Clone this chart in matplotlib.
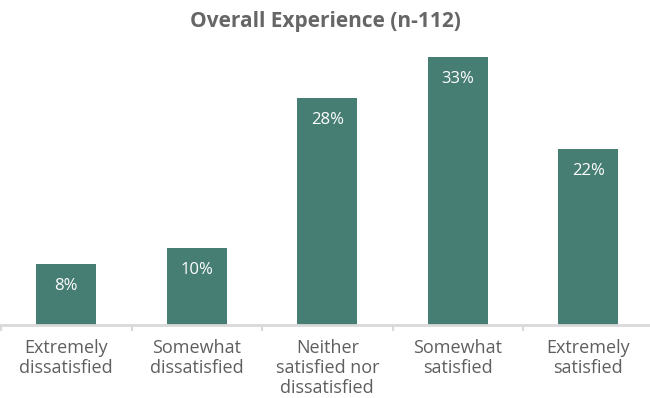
import matplotlib.pyplot as plt
from matplotlib.ticker import FixedLocator

categories = ["Extremely\ndissatisfied", "Somewhat\ndissatisfied",
              "Neither\nsatisfied nor\ndissatisfied", "Somewhat\nsatisfied",
              "Extremely\nsatisfied"]
values = [7.5, 9.5, 28, 33, 21.7]
labels = ["8%", "10%", "28%", "33%", "22%"]

bar_color = "#477e74"
text_gray = "#5f5f5f"

plt.rcParams['font.family'] = ['Open Sans', 'DejaVu Sans']

fig = plt.figure(figsize=(6.5, 3.98), dpi=100)
ax = fig.add_axes([0, 73 / 398, 1, (325 - 41) / 398])

x = list(range(len(categories)))
bars = ax.bar(x, values, width=0.46, color=bar_color, zorder=2)

for b, lab in zip(bars, labels):
    ax.annotate(lab, (b.get_x() + b.get_width() / 2, b.get_height()),
                xytext=(0, -16), textcoords="offset points",
                ha="center", va="center", color="white", fontsize=12)

ax.set_xlim(-0.508, 4.473)
ax.set_ylim(0, 35)
ax.set_xticks(x)
ax.set_xticklabels(categories, fontsize=13, color=text_gray, linespacing=1.15)
ax.tick_params(axis="x", which="major", length=0, pad=10)
ax.xaxis.set_minor_locator(FixedLocator([i - 0.5 for i in range(len(categories) + 1)]))
ax.tick_params(axis="x", which="minor", length=4, width=1.5, color="#d9d9d9")
ax.set_yticks([])

for s in ["top", "right", "left"]:
    ax.spines[s].set_visible(False)
ax.spines["bottom"].set_color("#d9d9d9")
ax.spines["bottom"].set_linewidth(2)

fig.text(0.5, 1 - 22 / 398, "Overall Experience (n-112)", ha="center", va="center",
         fontsize=15, fontweight="bold", color="#666666")

fig.savefig("out.png", dpi=100)
